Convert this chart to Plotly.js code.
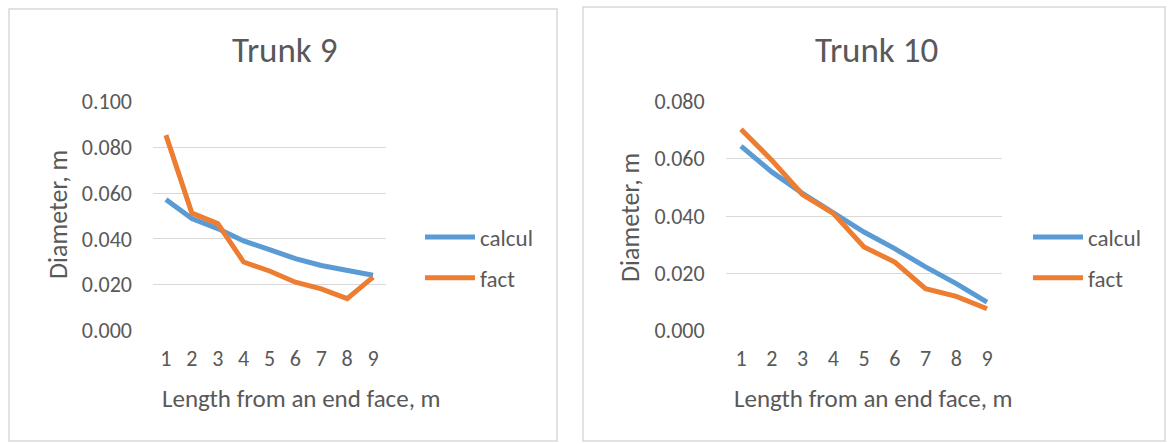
<!DOCTYPE html>
<html>
<head>
<meta charset="utf-8">
<script src="https://cdn.plot.ly/plotly-3.0.1.min.js"></script>
<style>
html,body{margin:0;padding:0;background:#fff;}
#chart{width:1171px;height:444px;}
</style>
</head>
<body>
<div id="chart"></div>
<script>
const lengths = [1, 2, 3, 4, 5, 6, 7, 8, 9];
const tickLabels = ['1', '2', '3', '4', '5', '6', '7', '8', '9'];
const trunk9Calcul = [0.0572, 0.0489, 0.0445, 0.0391, 0.0353, 0.0314, 0.0284, 0.0260, 0.0241];
const trunk9Fact   = [0.0853, 0.0513, 0.0467, 0.0299, 0.0260, 0.0211, 0.0182, 0.0139, 0.0233];
const trunk10Calcul = [0.0644, 0.0554, 0.0479, 0.0409, 0.0344, 0.0286, 0.0222, 0.0164, 0.0099];
const trunk10Fact   = [0.0703, 0.0595, 0.0475, 0.0409, 0.0292, 0.0239, 0.0146, 0.0119, 0.0076];
const seriesNames = ['calcul', 'fact'];
const chartTitles = ['Trunk 9', 'Trunk 10'];
const xTitle = 'Length from an end face, m';
const yTitle = 'Diameter, m';

const W = 1171, H = 444;
const FONT = "Carlito, 'Open Sans', sans-serif";
const TXT = '#595959';
const BLUE = '#5B9BD5', ORANGE = '#ED7D31';
const px = v => v / W;
const py = v => 1 - v / H;

function tr(y, name, color, xa, ya, leg, grp) {
  return {x: lengths, y: y, name: name, type: 'scatter', mode: 'lines',
    line: {color: color, width: 5}, xaxis: xa, yaxis: ya,
    legend: leg, legendgroup: grp};
}

const data = [
  tr(trunk9Calcul, seriesNames[0], BLUE, 'x', 'y', 'legend', 'a'),
  tr(trunk9Fact, seriesNames[1], ORANGE, 'x', 'y', 'legend', 'b'),
  tr(trunk10Calcul, seriesNames[0], BLUE, 'x2', 'y2', 'legend2', 'c'),
  tr(trunk10Fact, seriesNames[1], ORANGE, 'x2', 'y2', 'legend2', 'd')
];

function xax(d, anchor) {
  return {domain: d, anchor: anchor, range: [0.5, 9.5], tickvals: lengths, ticktext: tickLabels,
    showgrid: false, zeroline: false, showline: false, ticks: '',
    ticklabelstandoff: 12, tickfont: {family: FONT, size: 22, color: TXT}, fixedrange: true};
}
function yax(d, anchor, max) {
  return {domain: d, anchor: anchor, range: [0, max], dtick: 0.02, tickformat: '.3f',
    showgrid: true, gridcolor: '#D9D9D9', gridwidth: 1, zeroline: false, showline: false, ticks: '',
    ticklabelstandoff: 20, tickfont: {family: FONT, size: 22, color: TXT}, fixedrange: true};
}

const yDom = [py(330.5), py(101.5)];
const legStyle = (x) => ({x: x, y: py(257.5), xanchor: 'left', yanchor: 'middle',
  font: {family: FONT, size: 23, color: TXT}, bgcolor: 'rgba(0,0,0,0)',
  tracegroupgap: 8, itemwidth: 50, traceorder: 'grouped'});

const ann = (text, x, y, size, angle) => ({text: text, x: x, y: y, xref: 'paper', yref: 'paper',
  xanchor: 'center', yanchor: 'middle', showarrow: false, textangle: angle || 0,
  font: {family: FONT, size: size, color: TXT}});

const layout = {
  width: W, height: H, margin: {l: 0, r: 0, t: 0, b: 0},
  paper_bgcolor: '#fff', plot_bgcolor: '#fff', showlegend: true,
  xaxis: xax([px(153), px(386)], 'y'),
  yaxis: yax(yDom, 'x', 0.1),
  xaxis2: xax([px(725.6), px(1002.4)], 'y2'),
  yaxis2: yax(yDom, 'x2', 0.08),
  legend: legStyle(px(420)),
  legend2: legStyle(px(1028)),
  annotations: [
    ann(chartTitles[0], px(284), py(50), 35),
    ann(chartTitles[1], px(876), py(50), 35),
    ann(yTitle, px(58), py(215), 26, -90),
    ann(yTitle, px(630), py(218), 26, -90),
    ann(xTitle, px(301), py(398), 25),
    ann(xTitle, px(873), py(398), 25)
  ],
  shapes: [
    {type: 'rect', xref: 'paper', yref: 'paper', x0: px(9), x1: px(557), y0: py(441), y1: py(9),
      line: {color: '#D9D9D9', width: 1.5}, fillcolor: 'rgba(0,0,0,0)', layer: 'below'},
    {type: 'rect', xref: 'paper', yref: 'paper', x0: px(583), x1: px(1165), y0: py(441), y1: py(7),
      line: {color: '#D9D9D9', width: 1.5}, fillcolor: 'rgba(0,0,0,0)', layer: 'below'}
  ]
};

Plotly.newPlot('chart', data, layout, {staticPlot: true, displayModeBar: false});
</script>
</body>
</html>
